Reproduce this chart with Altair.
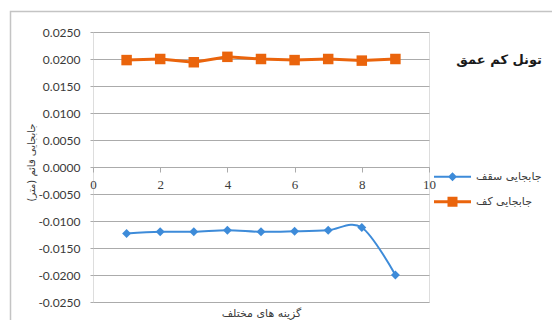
import altair as alt
import pandas as pd

# Option number on the horizontal axis
options = [1, 2, 3, 4, 5, 6, 7, 8, 9]

# Vertical displacement (m) for the crown and the invert of the tunnel
roof_disp = [-0.0123, -0.0120, -0.0120, -0.0117, -0.0120, -0.0119, -0.0117, -0.0112, -0.0200]
floor_disp = [0.0198, 0.0200, 0.0194, 0.0204, 0.0200, 0.0198, 0.0200, 0.0197, 0.0200]

series_names = ["جابجایی سقف", "جابجایی کف"]
series_colors = ["#3D8BD9", "#EA640C"]

y_ticks = [-0.025, -0.02, -0.015, -0.01, -0.005, 0, 0.005, 0.01, 0.015, 0.02, 0.025]
x_ticks = [0, 2, 4, 6, 8, 10]

chart_title = "تونل کم عمق"
x_title = "گزینه های مختلف"
y_title = "جابجایی قائم (متر)"

df = pd.DataFrame({
    "option": options * 2,
    "disp": roof_disp + floor_disp,
    "series": [series_names[0]] * len(options) + [series_names[1]] * len(options),
})

GRID = "#ABABAB"
TEXT = "#3A3A3A"

x_enc = alt.X(
    "option:Q",
    scale=alt.Scale(domain=[0, 10], nice=False, zero=False),
    axis=alt.Axis(
        values=x_ticks, format="d", offset=-135, grid=False,
        domainColor=GRID, domainWidth=1.2, tickColor=GRID, tickSize=5,
        labelFont="Liberation Serif", labelFontSize=13, labelColor=TEXT,
        labelPadding=6, labelFlush=False,
        title=x_title, titleY=146, titleBaseline="middle",
        titleFont="DejaVu Sans", titleFontSize=11, titleFontWeight="normal",
        titleColor=TEXT,
    ),
)
y_enc = alt.Y(
    "disp:Q",
    scale=alt.Scale(domain=[-0.025, 0.025], nice=False, zero=False),
    axis=alt.Axis(
        values=y_ticks,
        labelExpr="(datum.value < 0 ? '-' : '') + format(abs(datum.value), '.4f')",
        grid=True, gridColor=GRID, gridWidth=1.2, domain=False,
        tickColor=GRID, tickSize=3, labelPadding=10,
        labelFont="Lato", labelFontSize=12, labelColor=TEXT,
        title=y_title, titleX=-62, titleY=130, titleAngle=-90,
        titleBaseline="middle", titleAlign="center",
        titleFont="DejaVu Sans", titleFontSize=10, titleFontWeight="normal",
        titleColor=TEXT,
    ),
)

base = alt.Chart(df).encode(x=x_enc, y=y_enc)
roof = base.transform_filter(alt.datum.series == series_names[0])
floor = base.transform_filter(alt.datum.series == series_names[1])

roof_line = roof.mark_line(interpolate="cardinal", strokeWidth=2, color=series_colors[0])
floor_line = floor.mark_line(strokeWidth=3, color=series_colors[1])
roof_pts = roof.mark_point(shape="diamond", size=80, filled=True, opacity=1,
                           color=series_colors[0])
floor_pts = floor.mark_point(shape="square", size=110, filled=True, opacity=1,
                             color=series_colors[1])

# Legend symbols: a short line with the series marker on it (filled paths)
ROOF_SYMBOL = ("M-1.85,-0.1L1.85,-0.1L1.85,0.1L-1.85,0.1Z"
               "M0,-0.45L0.45,0L0,0.45L-0.45,0Z")
FLOOR_SYMBOL = ("M-1.85,-0.15L1.85,-0.15L1.85,0.15L-1.85,0.15Z"
                "M-0.5,-0.5L0.5,-0.5L0.5,0.5L-0.5,0.5Z")

legend = alt.Legend(
    title=None, orient="none", legendX=349.5, legendY=134.7,
    symbolSize=400, symbolOpacity=1, symbolStrokeWidth=0,
    rowPadding=10, labelOffset=13.5,
    labelFont="DejaVu Sans", labelFontSize=11, labelColor=TEXT,
)

# Carrier layer for the legend (its own marks are transparent)
legend_layer = base.mark_point(filled=True, opacity=0).encode(
    color=alt.Color("series:N", scale=alt.Scale(domain=series_names, range=series_colors),
                    legend=legend),
    shape=alt.Shape("series:N",
                    scale=alt.Scale(domain=series_names, range=[ROOF_SYMBOL, FLOOR_SYMBOL]),
                    legend=legend),
)

# Outer chart frame
frame = alt.Chart(alt.Data(values=[{}])).mark_rect(
    fill=None, stroke="#C4C4C4", strokeWidth=1.5
).encode(
    x=alt.value(-82.5), x2=alt.value(480), y=alt.value(-20.5), y2=alt.value(310)
)

chart = alt.layer(frame, roof_line, floor_line, roof_pts, floor_pts, legend_layer).properties(
    width=336, height=270,
    title=alt.TitleParams(
        chart_title, anchor="end", orient="top", frame="group", offset=0,
        dx=113, dy=62, baseline="middle",
        font="DejaVu Sans", fontSize=13, fontWeight="bold", color="#1A1A1A",
    ),
    padding={"left": 93, "top": 32, "right": 123, "bottom": 18},
    autosize=alt.AutoSizeParams(type="none"),
).configure_view(
    stroke=GRID, strokeWidth=1.2
).configure(background="white")

chart.save("out.html", embed_options={"renderer": "svg", "actions": False})
